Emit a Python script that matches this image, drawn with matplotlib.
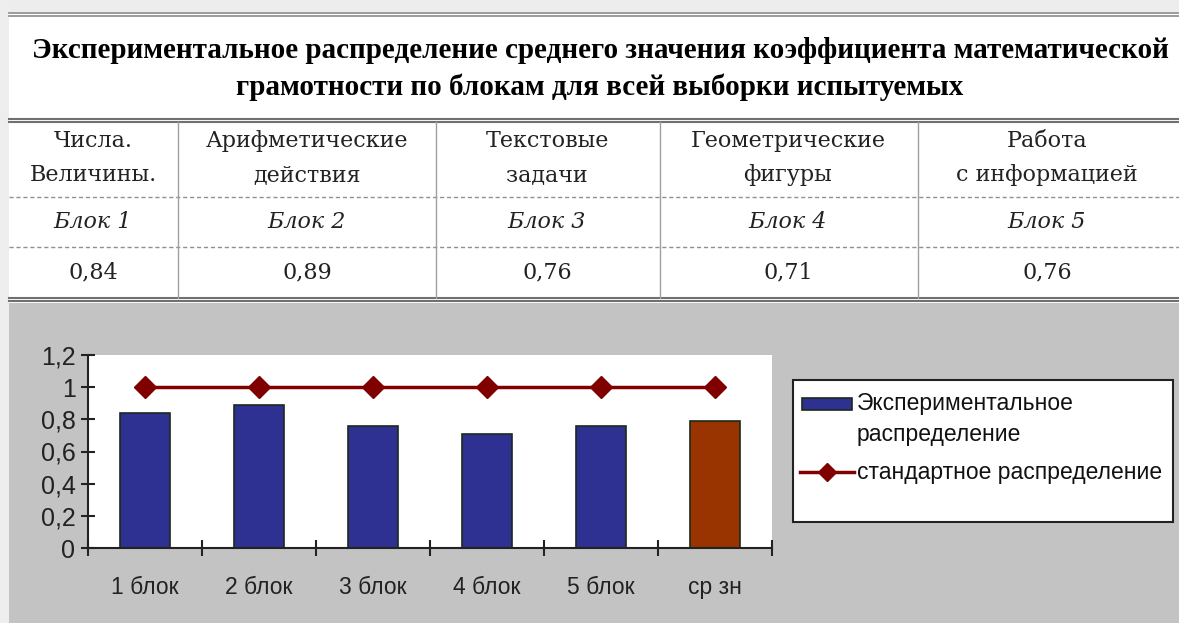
import matplotlib
matplotlib.use('Agg')
import matplotlib.pyplot as plt
from matplotlib.lines import Line2D
from matplotlib.patches import Rectangle
import numpy as np

W, H = 1179, 623

# ---- data ----
title_lines = ['Экспериментальное распределение среднего значения коэффициента математической',
               'грамотности по блокам для всей выборки испытуемых']
table_headers = ['Числа.\nВеличины.', 'Арифметические\nдействия', 'Текстовые\nзадачи',
                 'Геометрические\nфигуры', 'Работа\nс информацией']
table_blocks = ['Блок 1', 'Блок 2', 'Блок 3', 'Блок 4', 'Блок 5']
table_values = ['0,84', '0,89', '0,76', '0,71', '0,76']

categories = ['1 блок', '2 блок', '3 блок', '4 блок', '5 блок', 'ср зн']
exp_values = [0.84, 0.89, 0.76, 0.71, 0.76, 0.79]
std_values = [1, 1, 1, 1, 1, 1]
bar_colors = ['#2e3192', '#2e3192', '#2e3192', '#2e3192', '#2e3192', '#993300']
legend_labels = ['Экспериментальное\nраспределение', 'стандартное распределение']


def fx(px):
    return px / W


def fy(py):
    return 1 - py / H


fig = plt.figure(figsize=(W / 100, H / 100), dpi=100)
fig.patch.set_facecolor('white')

# background pieces (behind the axes)
bg = dict(transform=fig.transFigure, edgecolor='none', zorder=-5)
fig.add_artist(Rectangle((0, fy(12)), 1, 12 / H, facecolor='#ededed', **bg))
fig.add_artist(Rectangle((0, 0), fx(9), 1, facecolor='#eeeeee', **bg))
fig.add_artist(Rectangle((fx(9), 0), 1, fy(303), facecolor='#c3c3c3', **bg))


def hline(y, x0=9, x1=W, **kw):
    fig.add_artist(Line2D([fx(x0), fx(x1)], [fy(y), fy(y)], transform=fig.transFigure,
                          zorder=-4, **kw))


# table rules
for y in (13, 16):
    hline(y, color='#8a8a8a', lw=1.2)
for y in (119, 122):
    hline(y, color='#707070', lw=1.5)
for y in (298, 301):
    hline(y, color='#707070', lw=1.5)
hline(197, color='#909090', lw=1, ls=(0, (3, 2)))
hline(247, color='#909090', lw=1, ls=(0, (3, 2)))
for xv in (178, 436, 660, 918):
    fig.add_artist(Line2D([fx(xv), fx(xv)], [fy(122), fy(298)], transform=fig.transFigure,
                          color='#a0a0a0', lw=1, zorder=-4))

# title
for ty, line in zip((50, 87), title_lines):
    fig.text(fx(600), fy(ty), line, ha='center', va='center', fontsize=21,
             family='Liberation Serif', fontweight='bold')

# table text
col_centers = [93, 307, 547, 788, 1047]
for cx, hdr, blk, val in zip(col_centers, table_headers, table_blocks, table_values):
    fig.text(fx(cx), fy(158), hdr, ha='center', va='center', fontsize=16,
             family='DejaVu Serif', linespacing=1.75, color='#222222')
    fig.text(fx(cx), fy(222), blk, ha='center', va='center', fontsize=16,
             family='DejaVu Serif', style='italic', color='#222222')
    fig.text(fx(cx), fy(272), val, ha='center', va='center', fontsize=16,
             family='DejaVu Serif', color='#222222')

# chart
ax = fig.add_axes([fx(88), fy(548), fx(772) - fx(88), fy(355) - fy(548)])
ax.set_facecolor('white')
x = np.arange(len(categories))
ax.bar(x, exp_values, width=0.43, color=bar_colors, edgecolor='#1a2a1a', linewidth=1.2, zorder=2)
ax.plot(x, std_values, color='#800000', lw=2.5, marker='D', markersize=11, zorder=3)
ax.set_xlim(-0.5, len(categories) - 0.5)
ax.set_ylim(0, 1.2)
ax.set_yticks(np.arange(0, 1.21, 0.2))
ax.set_yticklabels(['0', '0,2', '0,4', '0,6', '0,8', '1', '1,2'])
ax.set_xticks(np.arange(-0.5, len(categories), 1.0))
ax.set_xticklabels([])
ax.set_xticks(x, minor=True)
ax.set_xticklabels(categories, minor=True)
ax.tick_params(axis='x', which='major', direction='inout', length=12, width=1.5, color='#222222')
ax.tick_params(axis='x', which='minor', length=0, pad=20, labelsize=16.5)
ax.tick_params(axis='y', direction='inout', length=10, width=1.5, color='#222222',
               labelsize=18, pad=4)
for lbl in ax.get_xticklabels(minor=True) + ax.get_yticklabels():
    lbl.set_family('Liberation Sans')
    lbl.set_color('#222222')
for s in ('top', 'right'):
    ax.spines[s].set_visible(False)
for s in ('left', 'bottom'):
    ax.spines[s].set_color('#222222')
    ax.spines[s].set_linewidth(1.5)

# legend box, drawn by hand to keep the Excel-like layout
fig.add_artist(Rectangle((fx(793), fy(522)), fx(1173) - fx(793), fy(380) - fy(522),
                         transform=fig.transFigure, facecolor='white', edgecolor='#222222', lw=1.5))
fig.add_artist(Rectangle((fx(802), fy(410)), fx(852) - fx(802), fy(398) - fy(410),
                         transform=fig.transFigure, facecolor=bar_colors[0],
                         edgecolor='#1a2a1a', lw=1.2))
fig.add_artist(Line2D([fx(800), fx(854)], [fy(472), fy(472)], transform=fig.transFigure,
                      color='#800000', lw=2.5))
fig.add_artist(Line2D([fx(827)], [fy(472)], transform=fig.transFigure, color='#800000',
                      marker='D', markersize=9, lw=0))
fig.text(fx(857), fy(392), legend_labels[0], ha='left', va='top', fontsize=16.5,
         family='Liberation Sans', linespacing=1.45, color='#111111')
fig.text(fx(857), fy(472), legend_labels[1], ha='left', va='center', fontsize=16.5,
         family='Liberation Sans', color='#111111')

fig.savefig('out.png', dpi=100)
